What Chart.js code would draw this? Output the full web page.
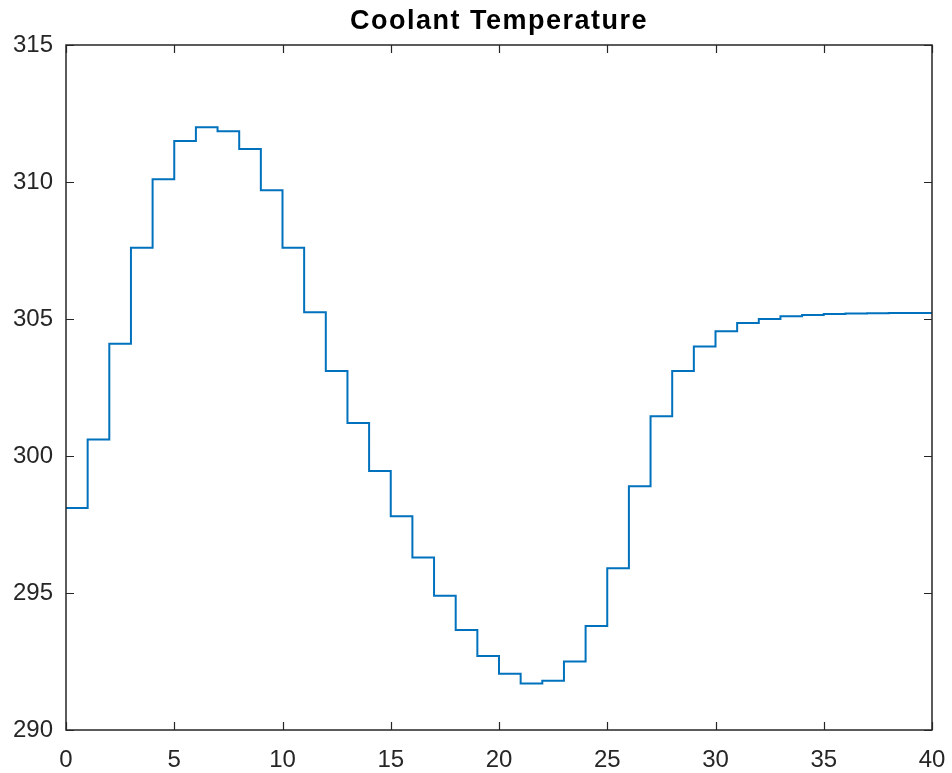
<!DOCTYPE html>
<html>
<head>
<meta charset="utf-8">
<script src="https://cdn.jsdelivr.net/npm/chart.js@4/dist/chart.umd.min.js"></script>
<style>
  html, body { margin: 0; padding: 0; background: #fff; }
  #wrap { width: 952px; height: 773px; }
</style>
</head>
<body>
<div id="wrap"><canvas id="chart"></canvas></div>
<script>
// sample times (s) and held coolant temperature (K), zero-order hold
const times = [0, 1, 2, 3, 4, 5, 6, 7, 8, 9, 10, 11, 12, 13, 14, 15, 16, 17, 18, 19, 20,
  21, 22, 23, 24, 25, 26, 27, 28, 29, 30, 31, 32, 33, 34, 35, 36, 37, 38, 39, 40];
const temps = [298.1, 300.6, 304.1, 307.6, 310.1, 311.5, 312.0, 311.85, 311.2, 309.7, 307.6,
  305.25, 303.1, 301.2, 299.45, 297.8, 296.3, 294.9, 293.65, 292.7, 292.05,
  291.7, 291.8, 292.5, 293.8, 295.9, 298.9, 301.45, 303.1, 304.0, 304.55,
  304.85, 305.0, 305.1, 305.15, 305.18, 305.2, 305.21, 305.22, 305.22, 305.22];
const xTicks = [0, 5, 10, 15, 20, 25, 30, 35, 40];
const yTicks = [290, 295, 300, 305, 310, 315];
const titleText = "Coolant Temperature";

const axisColor = "#262626";
const fontFamily = "'Liberation Sans', Arial, Helvetica, sans-serif";

// matlab-ish box with inward ticks on all four sides, title centred over the axes
const boxPlugin = {
  id: "box",
  afterDraw(chart) {
    const { ctx, chartArea: a, scales } = chart;
    const len = 8;
    ctx.save();
    ctx.strokeStyle = axisColor;
    ctx.lineWidth = 1.5;
    ctx.strokeRect(a.left, a.top, a.right - a.left, a.bottom - a.top);
    ctx.lineWidth = 1.2;
    ctx.beginPath();
    xTicks.forEach(v => {
      const px = Math.round(scales.x.getPixelForValue(v)) + 0.5;
      ctx.moveTo(px, a.bottom); ctx.lineTo(px, a.bottom - len);
      ctx.moveTo(px, a.top); ctx.lineTo(px, a.top + len);
    });
    yTicks.forEach(v => {
      const py = Math.round(scales.y.getPixelForValue(v)) + 0.5;
      ctx.moveTo(a.left, py); ctx.lineTo(a.left + len, py);
      ctx.moveTo(a.right, py); ctx.lineTo(a.right - len, py);
    });
    ctx.stroke();

    ctx.fillStyle = "#000";
    ctx.font = "bold 27px " + fontFamily;
    ctx.letterSpacing = "1.5px";
    ctx.textAlign = "center";
    ctx.textBaseline = "alphabetic";
    ctx.fillText(titleText, (a.left + a.right) / 2, 29);
    ctx.restore();
  }
};

new Chart(document.getElementById("chart"), {
  type: "line",
  data: {
    datasets: [{
      data: times.map((t, i) => ({ x: t, y: temps[i] })),
      stepped: "before",
      borderColor: "#0072BD",
      borderWidth: 2,
      pointRadius: 0,
      fill: false
    }]
  },
  options: {
    responsive: true,
    maintainAspectRatio: false,
    animation: false,
    layout: { padding: { left: 0, right: 20, top: 45, bottom: 0 } },
    plugins: {
      legend: { display: false },
      tooltip: { enabled: false },
      title: { display: false }
    },
    scales: {
      x: {
        type: "linear",
        min: 0, max: 40,
        afterBuildTicks: s => { s.ticks = xTicks.map(v => ({ value: v })); },
        afterFit: s => { s.height = 43; s.paddingLeft = 0; s.paddingRight = 0; },
        grid: { display: false, drawTicks: false },
        border: { display: false },
        ticks: {
          color: axisColor,
          padding: 16,
          maxRotation: 0,
          font: { family: fontFamily, size: 24 }
        }
      },
      y: {
        min: 290, max: 315,
        afterBuildTicks: s => { s.ticks = yTicks.map(v => ({ value: v })); },
        afterFit: s => { s.width = 66; s.paddingTop = 0; s.paddingBottom = 0; },
        grid: { display: false, drawTicks: false },
        border: { display: false },
        ticks: {
          color: axisColor,
          padding: 13,
          font: { family: fontFamily, size: 24 }
        }
      }
    }
  },
  plugins: [boxPlugin]
});
</script>
</body>
</html>
